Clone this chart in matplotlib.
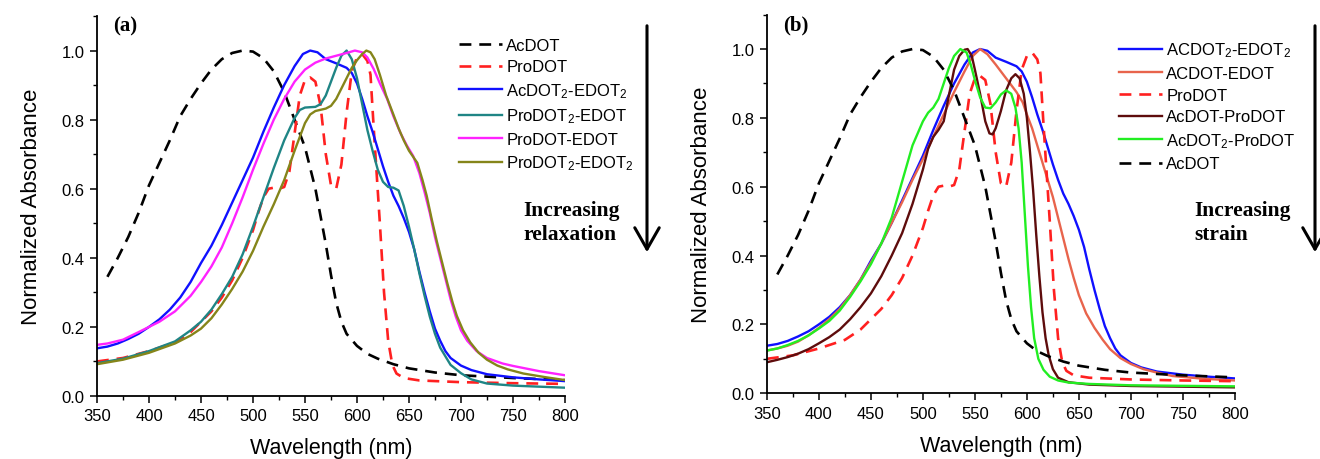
import numpy as np
import matplotlib
matplotlib.use("Agg")
import matplotlib.pyplot as plt

plt.rcParams['font.family'] = ['Liberation Sans', 'DejaVu Sans']
plt.rcParams['mathtext.default'] = 'regular'

# shared spectra
acdot_wl = [360, 370, 380, 390, 400, 410, 420, 430, 440, 450, 460, 470, 480, 490, 500,
            510, 520, 530, 540, 550, 560, 565, 570, 575, 580, 585, 590, 600, 610, 620,
            635, 650, 675, 700, 750, 800]
acdot_ab = [0.345, 0.40, 0.46, 0.53, 0.61, 0.675, 0.74, 0.81, 0.86, 0.905, 0.945, 0.975, 0.993, 1.0, 0.997,
            0.978, 0.94, 0.88, 0.80, 0.72, 0.60, 0.52, 0.44, 0.35, 0.27, 0.215, 0.18, 0.145, 0.122, 0.108,
            0.092, 0.08, 0.068, 0.06, 0.052, 0.046]

prodot_wl = [350, 375, 400, 425, 440, 450, 460, 470, 480, 490, 500, 505, 510, 515, 520, 525, 530,
             535, 540, 545, 550, 555, 560, 565, 570, 575, 580, 585, 590, 595, 600, 605, 610, 613,
             616, 619, 622, 626, 630, 634, 638, 645, 660, 700, 750, 800]
prodot_ab = [0.10, 0.11, 0.13, 0.155, 0.185, 0.215, 0.245, 0.285, 0.335, 0.40, 0.48, 0.53, 0.575, 0.60, 0.603, 0.60, 0.605,
             0.65, 0.76, 0.87, 0.915, 0.922, 0.91, 0.84, 0.70, 0.61, 0.60, 0.67, 0.82, 0.94, 0.98, 0.99, 0.97, 0.93,
             0.78, 0.64, 0.50, 0.30, 0.16, 0.09, 0.065, 0.052, 0.045, 0.04, 0.037, 0.035]

ac2e2_wl = [350, 360, 370, 380, 390, 400, 410, 420, 430, 440, 450, 460, 470, 480, 490, 500, 510, 520,
            530, 540, 548, 555, 562, 570, 580, 590, 595, 600, 605, 610, 615, 620, 625, 630, 635, 640,
            645, 650, 655, 660, 665, 670, 675, 680, 685, 690, 700, 710, 725, 750, 775, 800]
ac2e2_ab = [0.138, 0.143, 0.152, 0.165, 0.18, 0.20, 0.222, 0.25, 0.285, 0.33, 0.385, 0.435, 0.495, 0.56, 0.625, 0.69, 0.765, 0.835,
            0.90, 0.955, 0.99, 1.0, 0.995, 0.975, 0.963, 0.95, 0.935, 0.905, 0.86, 0.81, 0.765, 0.715, 0.665, 0.62, 0.58, 0.55,
            0.515, 0.475, 0.425, 0.36, 0.30, 0.245, 0.195, 0.16, 0.13, 0.11, 0.088, 0.075, 0.063, 0.054, 0.048, 0.043]

# panel (a) only
proe_wl = [350, 360, 375, 390, 400, 410, 425, 440, 450, 460, 470, 480, 490, 500, 510, 520, 530, 540,
           550, 560, 570, 580, 590, 598, 605, 610, 616, 622, 629, 635, 642, 648, 654, 660, 665, 670,
           675, 680, 685, 690, 695, 700, 706, 715, 725, 740, 750, 775, 800]
proe_ab = [0.148, 0.152, 0.163, 0.185, 0.2, 0.215, 0.245, 0.29, 0.33, 0.375, 0.43, 0.50, 0.575, 0.655, 0.73, 0.80, 0.86, 0.91,
           0.945, 0.965, 0.977, 0.985, 0.993, 1.0, 0.995, 0.98, 0.947, 0.905, 0.86, 0.81, 0.76, 0.725, 0.695, 0.645, 0.59, 0.53,
           0.46, 0.40, 0.34, 0.28, 0.23, 0.19, 0.16, 0.13, 0.11, 0.094, 0.087, 0.072, 0.06]

pro2e_wl = [350, 375, 400, 425, 440, 450, 460, 470, 480, 490, 500, 510, 520, 530, 540, 545, 550, 560,
            565, 570, 575, 580, 585, 590, 595, 600, 605, 610, 615, 620, 625, 630, 635, 640, 645, 650,
            655, 660, 665, 670, 675, 680, 685, 690, 700, 710, 725, 750, 800]
pro2e_ab = [0.095, 0.108, 0.13, 0.158, 0.19, 0.215, 0.25, 0.295, 0.345, 0.41, 0.49, 0.575, 0.66, 0.74, 0.805, 0.828, 0.835, 0.837,
            0.845, 0.87, 0.91, 0.95, 0.985, 1.0, 0.975, 0.92, 0.845, 0.77, 0.71, 0.655, 0.62, 0.605, 0.603, 0.595, 0.55, 0.49,
            0.425, 0.355, 0.29, 0.23, 0.18, 0.14, 0.115, 0.09, 0.066, 0.048, 0.036, 0.03, 0.024]

pro2e2_wl = [350, 375, 400, 425, 440, 450, 460, 470, 480, 490, 500, 510, 520, 530, 540, 550, 555, 560,
             570, 575, 580, 585, 590, 595, 600, 605, 609, 613, 617, 622, 628, 635, 640, 645, 650, 658,
             663, 667, 672, 677, 682, 687, 692, 696, 702, 709, 717, 725, 735, 745, 760, 780, 800]
pro2e2_ab = [0.092, 0.105, 0.125, 0.152, 0.175, 0.195, 0.225, 0.265, 0.31, 0.36, 0.42, 0.49, 0.555, 0.625, 0.71, 0.79, 0.815, 0.825,
             0.832, 0.84, 0.86, 0.89, 0.92, 0.95, 0.972, 0.99, 1.0, 0.995, 0.975, 0.93, 0.87, 0.815, 0.775, 0.74, 0.71, 0.675,
             0.625, 0.58, 0.51, 0.445, 0.385, 0.325, 0.27, 0.232, 0.19, 0.155, 0.125, 0.105, 0.088, 0.077, 0.065, 0.055, 0.046]

# panel (b) only
ace_wl = [350, 360, 370, 380, 390, 400, 410, 420, 430, 440, 450, 460, 470, 480, 490, 500, 510, 520,
          530, 540, 548, 555, 562, 570, 580, 590, 596, 600, 605, 610, 615, 620, 625, 630, 635, 640,
          645, 650, 657, 665, 673, 680, 690, 700, 712, 725, 740, 770, 800]
ace_ab = [0.124, 0.13, 0.138, 0.15, 0.168, 0.19, 0.215, 0.245, 0.285, 0.33, 0.38, 0.435, 0.495, 0.555, 0.62, 0.68, 0.745, 0.81,
          0.875, 0.935, 0.98, 1.0, 0.985, 0.955, 0.915, 0.875, 0.845, 0.81, 0.77, 0.72, 0.67, 0.62, 0.57, 0.51, 0.45, 0.39,
          0.335, 0.285, 0.232, 0.19, 0.155, 0.128, 0.102, 0.085, 0.07, 0.06, 0.05, 0.042, 0.037]

acpro_wl = [350, 360, 370, 380, 390, 400, 410, 420, 430, 440, 450, 460, 470, 480, 490, 500, 505, 510,
            515, 520, 525, 530, 535, 540, 543, 547, 550, 555, 560, 564, 567, 570, 575, 580, 585, 589,
            593, 597, 600, 603, 606, 609, 612, 615, 618, 621, 625, 630, 640, 660, 700, 800]
acpro_ab = [0.09, 0.097, 0.105, 0.115, 0.128, 0.145, 0.163, 0.185, 0.215, 0.25, 0.29, 0.34, 0.40, 0.465, 0.55, 0.65, 0.71, 0.745,
            0.765, 0.79, 0.865, 0.94, 0.98, 0.998, 1.0, 0.98, 0.94, 0.87, 0.79, 0.755, 0.752, 0.77, 0.82, 0.88, 0.915, 0.927,
            0.915, 0.87, 0.80, 0.70, 0.59, 0.46, 0.34, 0.235, 0.16, 0.11, 0.07, 0.045, 0.032, 0.025, 0.021, 0.017]

ac2pro_wl = [350, 360, 370, 380, 390, 400, 410, 420, 430, 440, 450, 460, 470, 480, 490, 500, 505, 510,
             515, 520, 525, 530, 536, 542, 546, 550, 555, 560, 565, 570, 575, 580, 585, 589, 592, 595,
             598, 601, 604, 607, 611, 616, 622, 630, 640, 660, 700, 800]
ac2pro_ab = [0.124, 0.13, 0.14, 0.152, 0.168, 0.188, 0.21, 0.24, 0.28, 0.325, 0.375, 0.435, 0.51, 0.615, 0.72, 0.79, 0.815, 0.83,
             0.855, 0.9, 0.945, 0.98, 1.0, 0.99, 0.955, 0.91, 0.86, 0.83, 0.828, 0.845, 0.868, 0.88, 0.87, 0.83, 0.77, 0.67,
             0.52, 0.37, 0.25, 0.16, 0.10, 0.068, 0.048, 0.037, 0.031, 0.027, 0.023, 0.02]

fig = plt.figure(figsize=(13.2, 4.6), dpi=100)
ax1 = fig.add_axes([0.0735, 0.137, 0.3545, 0.826])
ax2 = fig.add_axes([0.581, 0.143, 0.3545, 0.823])

dash = (0, (4.5, 3))
ax1.plot(acdot_wl, acdot_ab, color='black', lw=1.9, ls=dash, label='AcDOT')
ax1.plot(prodot_wl, prodot_ab, color='#ff2020', lw=1.9, ls=dash, label='ProDOT')
ax1.plot(ac2e2_wl, ac2e2_ab, color='#1010ff', lw=1.7, label='AcDOT$_2$-EDOT$_2$')
ax1.plot(pro2e_wl, pro2e_ab, color='#1f8585', lw=1.7, label='ProDOT$_2$-EDOT')
ax1.plot(proe_wl, proe_ab, color='#ff22ff', lw=1.7, label='ProDOT-EDOT')
ax1.plot(pro2e2_wl, pro2e2_ab, color='#85851a', lw=1.7, label='ProDOT$_2$-EDOT$_2$')

ax2.plot(ac2e2_wl, ac2e2_ab, color='#1010ff', lw=1.7, label='ACDOT$_2$-EDOT$_2$')
ax2.plot(ace_wl, ace_ab, color='#e8644c', lw=1.7, label='ACDOT-EDOT')
ax2.plot(prodot_wl, prodot_ab, color='#ff2020', lw=1.9, ls=dash, label='ProDOT')
ax2.plot(acpro_wl, acpro_ab, color='#5e0c0c', lw=1.7, label='AcDOT-ProDOT')
ax2.plot(ac2pro_wl, ac2pro_ab, color='#22ee22', lw=1.7, label='AcDOT$_2$-ProDOT')
ax2.plot(acdot_wl, acdot_ab, color='black', lw=1.9, ls=dash, label='AcDOT')

for ax, tag in [(ax1, '(a)'), (ax2, '(b)')]:
    ax.set_xlim(350, 800)
    ax.set_ylim(0, 1.1)
    ax.set_xticks(np.arange(350, 801, 50))
    ax.set_xticks(np.arange(350, 801, 25), minor=True)
    ax.set_yticks(np.arange(0, 1.01, 0.2))
    ax.set_yticks(np.arange(0, 1.11, 0.1), minor=True)
    ax.set_yticklabels(['0.0', '0.2', '0.4', '0.6', '0.8', '1.0'])
    for s in ['top', 'right']:
        ax.spines[s].set_visible(False)
    for s in ['left', 'bottom']:
        ax.spines[s].set_linewidth(1.3)
    ax.tick_params(which='major', direction='out', length=5, width=1.1, labelsize=12, pad=4)
    ax.tick_params(which='minor', direction='out', length=3, width=1.0)
    ax.set_xlabel('Wavelength (nm)', fontsize=15.5, labelpad=10)
    ax.set_ylabel('Normalized Absorbance', fontsize=16, labelpad=14)
    ax.text(0.035, 0.975, tag, transform=ax.transAxes, fontsize=15, fontweight='bold',
            family='Liberation Serif', va='center')

leg_kw = dict(frameon=False, fontsize=12, handlelength=2.6, handletextpad=0.25,
              labelspacing=0.4, borderaxespad=0, loc='upper left')
ax1.legend(bbox_to_anchor=(452 / 1320, 1 - 32 / 460), bbox_transform=fig.transFigure, **leg_kw)
ax2.legend(bbox_to_anchor=(1112 / 1320, 1 - 35 / 460), bbox_transform=fig.transFigure, **leg_kw)

fig.text(523 / 1320, 1 - 240 / 460, 'Increasing\nrelaxation', fontsize=15.5, fontweight='bold',
         family='Liberation Serif', va='baseline', linespacing=1.25)
fig.text(1194 / 1320, 1 - 240 / 460, 'Increasing\nstrain', fontsize=15.5, fontweight='bold',
         family='Liberation Serif', va='baseline', linespacing=1.25)

for xa in [647, 1315]:
    fig.add_artist(matplotlib.patches.FancyArrowPatch(
        (xa / 1320, 1 - 24 / 460), (xa / 1320, 1 - 256 / 460), transform=fig.transFigure,
        arrowstyle='->,head_length=7,head_width=4', lw=2.2, color='black', mutation_scale=2.2))

fig.savefig('out.png', dpi=100)
